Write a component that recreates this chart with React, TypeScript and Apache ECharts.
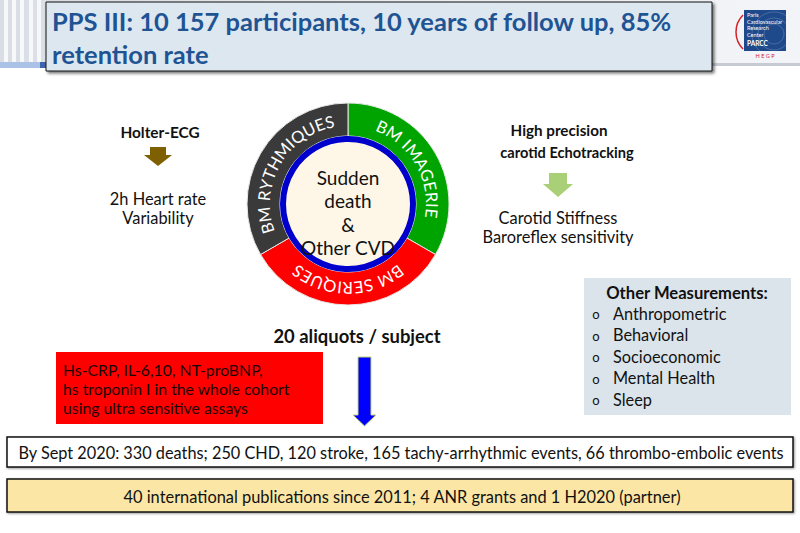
import React, { useEffect, useRef } from 'react';
import * as echarts from 'echarts';

// ---------- content ----------
const TITLE_LINES = ['PPS III: 10 157 participants, 10 years of follow up, 85%', 'retention rate'];
const SEGMENT_NAMES = ['BM IMAGERIE', 'BM SERIQUES', 'BM RYTHMIQUES'];
const SEGMENT_VALUES = [1, 1, 1];
const CENTER_LINES = ['Sudden', 'death', '&', 'Other CVD'];
const HOLTER_TITLE = ['Holter-ECG'];
const HOLTER_LINES = ['2h Heart rate', 'Variability'];
const ECHO_TITLE = ['High precision', 'carotid Echotracking'];
const ECHO_LINES = ['Carotid Stiffness', 'Baroreflex sensitivity'];
const OTHER_TITLE = 'Other Measurements:';
const OTHER_ITEMS = ['Anthropometric', 'Behavioral', 'Socioeconomic', 'Mental Health', 'Sleep'];
const ALIQUOTS = '20 aliquots / subject';
const BIOMARKER_LINES = ['Hs-CRP, IL-6,10, NT-proBNP,', 'hs troponin I in the whole cohort', 'using ultra sensitive assays'];
const EVENTS_LINE = 'By Sept 2020: 330 deaths; 250 CHD, 120 stroke, 165 tachy-arrhythmic events, 66 thrombo-embolic events';
const PUBLICATIONS_LINE = '40 international publications since 2011; 4 ANR grants and 1 H2020 (partner)';
const LOGO_LINES = ['Paris', 'Cardiovascular', 'Research', 'Center'];
const LOGO_NAME = 'PARCC';
const LOGO_SUB = 'H E G P';

// ---------- styles ----------
const FONT = 'Lato, "Open Sans", "Noto Sans", sans-serif';
const SEGMENT_COLORS = ['#00A400', '#FF0000', '#3A3A3A'];
const CX = 348;
const CY = 204;
const R_IN = 68;
const R_OUT = 101;

let measureCtx: CanvasRenderingContext2D | null = null;
function measure(text: string, font: string): number {
  if (!measureCtx) {
    const c = document.createElement('canvas');
    measureCtx = c.getContext('2d');
  }
  if (!measureCtx) return text.length * 8;
  measureCtx.font = font;
  return measureCtx.measureText(text).width;
}

function txt(x: number, y: number, text: string, size: number, o: any = {}) {
  const align = o.align || 'center';
  return {
    type: 'text',
    x,
    y,
    z: o.z ?? 50,
    rotation: o.rotation || 0,
    silent: true,
    style: {
      text,
      font: `${o.weight || 'normal'} ${size}px ${FONT}`,
      fill: o.fill || '#111',
      align,
      verticalAlign: 'middle',
      textAlign: align,
      textVerticalAlign: 'middle',
    },
  };
}

function arcText(label: string, midDeg: number, r: number, size: number, fill: string, spacing: number) {
  const font = `normal ${size}px ${FONT}`;
  const chars = Array.from(label);
  const widths = chars.map((ch) => measure(ch, `${size}px Lato`));
  const total = widths.reduce((a, b) => a + b, 0) + spacing * (chars.length - 1);
  const mid = (midDeg * Math.PI) / 180;
  const out: any[] = [];
  let pos = 0;
  chars.forEach((ch, i) => {
    const c = pos + widths[i] / 2;
    const ang = mid + (total / 2 - c) / r;
    pos += widths[i] + spacing;
    if (ch === ' ') return;
    out.push({
      type: 'text',
      x: CX + r * Math.cos(ang),
      y: CY - r * Math.sin(ang),
      rotation: ang - Math.PI / 2,
      z: 60,
      silent: true,
      style: {
        text: ch,
        font,
        fill,
        align: 'center',
        verticalAlign: 'middle',
        textAlign: 'center',
        textVerticalAlign: 'middle',
      },
    });
  });
  return out;
}

function buildOption() {
  const g: any[] = [];

  // header band
  g.push({
    type: 'rect', z: 1, silent: true,
    shape: { x: 0, y: 0, width: 800, height: 64 },
    style: {
      fill: new echarts.graphic.LinearGradient(0, 0, 1, 0, [
        { offset: 0, color: '#D9DEE4' },
        { offset: 0.5, color: '#EEF1F5' },
        { offset: 1, color: '#F2F4F7' },
      ]),
    },
  });
  [4, 12, 20, 29, 37].forEach((sx) => {
    g.push({ type: 'rect', z: 2, silent: true, shape: { x: sx, y: 0, width: 4, height: 62 }, style: { fill: '#F7F8FA' } });
  });
  g.push({ type: 'rect', z: 2, silent: true, shape: { x: 0, y: 62, width: 40, height: 6 }, style: { fill: '#A9C2E6' } });
  g.push({ type: 'rect', z: 2, silent: true, shape: { x: 40, y: 62, width: 8, height: 6 }, style: { fill: '#3F63AE' } });
  g.push({ type: 'rect', z: 2, silent: true, shape: { x: 712, y: 63, width: 88, height: 3 }, style: { fill: '#C6CBD3' } });

  // title box
  g.push({
    type: 'rect', z: 5, silent: true,
    shape: { x: 46, y: 2, width: 666, height: 69 },
    style: { fill: '#DDE7EF', stroke: '#111', lineWidth: 1, shadowBlur: 3, shadowOffsetX: 2, shadowOffsetY: 2, shadowColor: 'rgba(0,0,0,0.55)' },
  });
  TITLE_LINES.forEach((line, i) => {
    g.push(txt(52, 21 + i * 33, line, 25.5, { align: 'left', weight: 'bold', fill: '#1F5494' }));
  });

  // logo
  g.push({ type: 'rect', z: 5, silent: true, shape: { x: 744, y: 10, width: 42, height: 41 }, style: { fill: '#1E4A8C' } });
  [10, 16, 22].forEach((rr) => {
    g.push({ type: 'circle', z: 6, silent: true, shape: { cx: 774, cy: 34, r: rr }, style: { fill: 'none', stroke: 'rgba(255,255,255,0.18)', lineWidth: 1 } });
  });
  g.push({
    type: 'arc', z: 6, silent: true,
    shape: { cx: 760, cy: 32, r: 24, startAngle: (3 * Math.PI) / 4, endAngle: (5 * Math.PI) / 4, clockwise: true },
    style: { fill: 'none', stroke: '#D8202A', lineWidth: 1.5 },
  });
  LOGO_LINES.forEach((l, i) => {
    g.push(txt(747, 15 + i * 6.5, l, 5.5, { align: 'left', fill: '#FFFFFF', z: 7 }));
  });
  g.push(txt(747, 43, LOGO_NAME, 6.5, { align: 'left', fill: '#FFFFFF', weight: 'bold', z: 7 }));
  g.push(txt(765, 56, LOGO_SUB, 5.5, { fill: '#D8202A', z: 7 }));

  // Holter column
  HOLTER_TITLE.forEach((l, i) => g.push(txt(160, 132 + i * 22, l, 15.4, { weight: 'bold' })));
  g.push({
    type: 'polygon', z: 5, silent: true,
    shape: { points: [[150, 147], [166, 147], [166, 155], [172, 155], [158, 166], [144, 155], [150, 155]] },
    style: { fill: '#7F6000' },
  });
  HOLTER_LINES.forEach((l, i) => g.push(txt(158, 198 + i * 19, l, 16.4)));

  // Echotracking column
  g.push(txt(559, 130, ECHO_TITLE[0], 15.2, { weight: 'bold' }));
  g.push(txt(567, 152, ECHO_TITLE[1], 14.6, { weight: 'bold' }));
  g.push({
    type: 'polygon', z: 5, silent: true,
    shape: { points: [[549, 173], [567, 173], [567, 184], [573, 184], [558, 197], [543, 184], [549, 184]] },
    style: { fill: '#A9CF77' },
  });
  ECHO_LINES.forEach((l, i) => g.push(txt(558, 217 + i * 19, l, 16.4)));

  // center disc of the donut
  g.push({
    type: 'circle', z: 55, silent: true,
    shape: { cx: CX, cy: CY, r: R_IN - 3 },
    style: { fill: '#FEF6E7', stroke: '#0000CC', lineWidth: 6 },
  });
  CENTER_LINES.forEach((l, i) => g.push(txt(CX, 177 + i * 23.5, l, 19, { z: 60, fill: '#111' })));

  // curved labels, placed at the middle angle of each slice
  const total = SEGMENT_VALUES.reduce((a, b) => a + b, 0);
  let cum = 0;
  SEGMENT_NAMES.forEach((name, i) => {
    const midDeg = 90 - (360 * (cum + SEGMENT_VALUES[i] / 2)) / total;
    cum += SEGMENT_VALUES[i];
    g.push(...arcText(name, midDeg, 84, 16.5, '#FFFFFF', 0.9));
  });

  // other measurements box
  g.push({ type: 'rect', z: 5, silent: true, shape: { x: 584, y: 278, width: 207, height: 137 }, style: { fill: '#DBE4EB' } });
  g.push(txt(687, 293, OTHER_TITLE, 16.6, { weight: 'bold' }));
  OTHER_ITEMS.forEach((l, i) => {
    g.push(txt(596, 314 + i * 21.5, 'o', 13, { z: 50 }));
    g.push(txt(613, 313 + i * 21.5, l, 16.3, { align: 'left' }));
  });

  // aliquots + arrow
  g.push(txt(357, 336, ALIQUOTS, 18.4, { weight: 'bold' }));
  g.push({
    type: 'polygon', z: 5, silent: true,
    shape: { points: [[358, 357], [371, 357], [371, 415], [376, 415], [364.5, 426], [353, 415], [358, 415]] },
    style: { fill: '#0000FF', stroke: '#C9D56F', lineWidth: 1 },
  });

  // biomarker red box
  g.push({ type: 'rect', z: 5, silent: true, shape: { x: 56, y: 352, width: 267, height: 72 }, style: { fill: '#FF0000' } });
  const bioW = measure(BIOMARKER_LINES[1], `normal 15px ${FONT}`);
  const bioSize = Math.max(14, Math.min(15.8, (15 * 247) / (bioW || 247)));
  BIOMARKER_LINES.forEach((l, i) => g.push(txt(63, 369 + i * 19.2, l, bioSize, { align: 'left', fill: '#1A0505' })));

  // events box
  g.push({
    type: 'rect', z: 5, silent: true,
    shape: { x: 7, y: 437, width: 786, height: 30 },
    style: { fill: '#FFFFFF', stroke: '#111', lineWidth: 1.5, shadowBlur: 2, shadowOffsetX: 1, shadowOffsetY: 1, shadowColor: 'rgba(0,0,0,0.4)' },
  });
  g.push(txt(401, 452, EVENTS_LINE, 16.3));

  // publications box
  g.push({
    type: 'rect', z: 5, silent: true,
    shape: { x: 7, y: 479, width: 786, height: 33 },
    style: { fill: '#FCE6A5', stroke: '#111', lineWidth: 1.5, shadowBlur: 2, shadowOffsetX: 1, shadowOffsetY: 1, shadowColor: 'rgba(0,0,0,0.4)' },
  });
  g.push(txt(402, 496, PUBLICATIONS_LINE, 16.4));

  return {
    animation: false,
    backgroundColor: '#FFFFFF',
    series: [
      {
        type: 'pie',
        silent: true,
        center: [CX, CY],
        radius: [R_IN, R_OUT],
        startAngle: 90,
        clockwise: true,
        label: { show: false },
        labelLine: { show: false },
        itemStyle: { borderColor: '#E6E6E6', borderWidth: 1 },
        data: SEGMENT_NAMES.map((name, i) => ({
          name,
          value: SEGMENT_VALUES[i],
          itemStyle: { color: SEGMENT_COLORS[i] },
        })),
      },
    ],
    graphic: { elements: g },
  };
}

export default function App() {
  const ref = useRef<HTMLDivElement>(null);
  useEffect(() => {
    if (!ref.current) return;
    const chart = echarts.init(ref.current, undefined, { renderer: 'svg' });
    chart.setOption(buildOption() as any);
    return () => chart.dispose();
  }, []);
  return (
    <div
      ref={ref}
      style={{ position: 'fixed', left: 0, top: 0, width: 800, height: 533, background: '#fff' }}
    />
  );
}
